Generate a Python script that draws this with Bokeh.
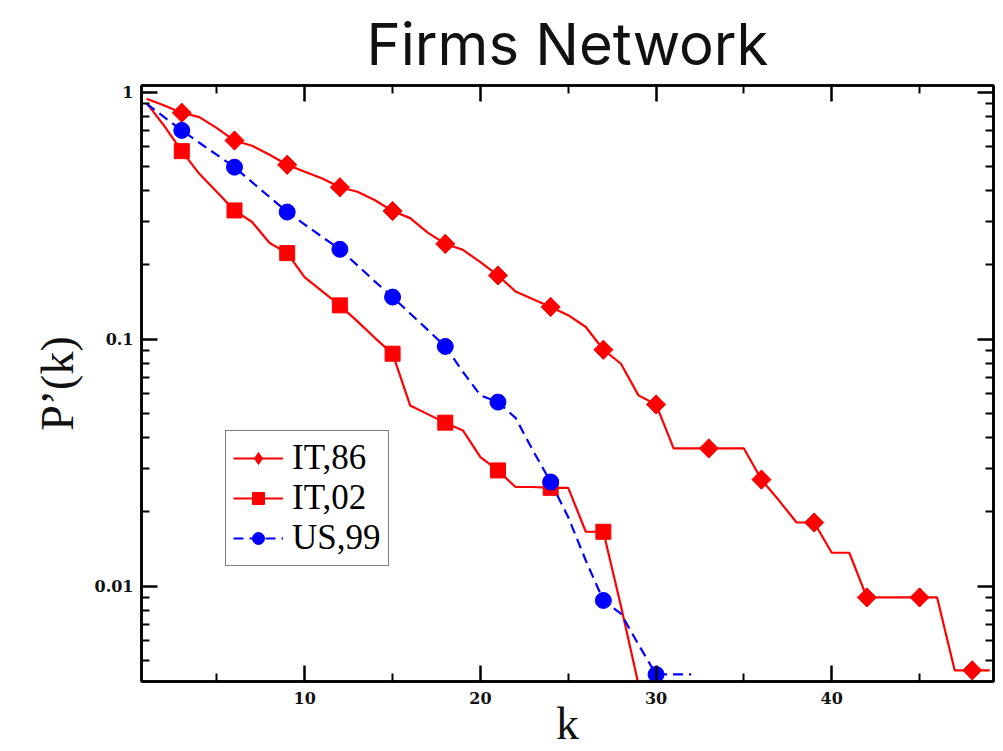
import math
from bokeh.plotting import figure
from bokeh.models import (Range1d, LogAxis, LinearAxis, FixedTicker, Legend,
                          LegendItem, ColumnDataSource, CustomJSTickFormatter)
from bokeh.embed import file_html
from bokeh.resources import INLINE

# ---------------- data ----------------
k_it86 = list(range(1, 50))
p_it86 = [0.94, 0.883, 0.825, 0.792, 0.715, 0.637, 0.607, 0.558, 0.508, 0.476,
          0.447, 0.412, 0.395, 0.365, 0.330, 0.309, 0.270, 0.243, 0.230, 0.205,
          0.181, 0.156, 0.145, 0.135, 0.125, 0.112, 0.0906, 0.0795, 0.0592, 0.0544,
          0.0361, 0.0361, 0.0361, 0.0361, 0.0361, 0.0270, 0.0222, 0.0181, 0.0181, 0.01365,
          0.01365, 0.0090, 0.0090, 0.0090, 0.0090, 0.0090, 0.00456, 0.00456, 0.00456]

k_it02 = list(range(1, 30))
p_it02 = [0.903, 0.73, 0.577, 0.467, 0.394, 0.332, 0.298, 0.245, 0.223, 0.178,
          0.156, 0.137, 0.118, 0.101, 0.0873, 0.0539, 0.0497, 0.0459, 0.0427, 0.0333,
          0.0294, 0.0252, 0.0252, 0.0250, 0.0250, 0.0166, 0.0166, 0.0083, 0.0040]

k_us99 = list(range(1, 33))
p_us99 = [0.897, 0.792, 0.700, 0.624, 0.557, 0.497, 0.432, 0.376, 0.327, 0.291,
          0.259, 0.231, 0.199, 0.171, 0.148, 0.127, 0.109, 0.0934, 0.0738, 0.0592,
          0.0556, 0.048, 0.0353, 0.0264, 0.019, 0.0127, 0.00875, 0.00773, 0.0058, 0.00439,
          0.00439, 0.00439]

title_text = "Firms Network"
series_names = ["IT,86", "IT,02", "US,99"]
x_major = [10, 20, 30, 40]
x_minor = [5, 15, 25, 35, 45]
y_major = [0.01, 0.1, 1]
y_minor = [m * 10.0 ** e for e in (-3, -2, -1) for m in range(2, 10)]

RED = "#ff0000"
BLUE = "#0000ff"
SERIF = "Liberation Serif"

p = figure(width=1003, height=751, y_axis_type="log",
           x_range=Range1d(0.706, 49.21), y_range=Range1d(0.00411, 1.064),
           output_backend="svg", toolbar_location=None,
           min_border_left=141, min_border_right=10,
           min_border_top=85, min_border_bottom=70,
           background_fill_color="white", border_fill_color="white")

p.title.text = title_text
p.title.text_font = "Inter"
p.title.text_font_size = "58px"
p.title.text_font_style = "normal"
p.title.align = "center"
p.title.text_color = "#111111"
p.title.standoff = 13

p.xgrid.visible = False
p.ygrid.visible = False
p.outline_line_color = "black"
p.outline_line_width = 2.5


def style_axis(ax, show_labels=True):
    ax.axis_line_width = 2.5
    ax.axis_line_color = "black"
    ax.major_tick_in = 16
    ax.major_tick_out = 0
    ax.minor_tick_in = 8
    ax.minor_tick_out = 0
    ax.major_tick_line_width = 2.5
    ax.minor_tick_line_width = 2
    ax.major_tick_line_color = "black"
    ax.minor_tick_line_color = "black"
    if show_labels:
        ax.major_label_text_font = "DejaVu Serif"
        ax.major_label_text_font_style = "bold"
        ax.major_label_text_font_size = "16px"
        ax.major_label_text_color = "#111111"
        ax.formatter = CustomJSTickFormatter(code="return tick.toString();")
    else:
        ax.major_label_text_font_size = "1px"
        ax.major_label_text_alpha = 0
        ax.major_label_standoff = 0
        ax.formatter = CustomJSTickFormatter(code="return ' ';")


xt = FixedTicker(ticks=x_major, minor_ticks=x_minor)
yt = FixedTicker(ticks=y_major, minor_ticks=y_minor)

xa = p.xaxis[0]
xa.ticker = xt
style_axis(xa)
xa.major_label_standoff = 10
xa.axis_label = "k"
xa.axis_label_text_font = SERIF
xa.axis_label_text_font_size = "46px"
xa.axis_label_text_font_style = "normal"
xa.axis_label_text_color = "#111111"
xa.axis_label_standoff = -9

ya = p.yaxis[0]
ya.ticker = yt
style_axis(ya)
ya.major_label_standoff = 8
ya.axis_label = "P\u2019(k)"
ya.axis_label_text_font = SERIF
ya.axis_label_text_font_size = "46px"
ya.axis_label_text_font_style = "normal"
ya.axis_label_text_color = "#111111"
ya.axis_label_standoff = 9

top = LinearAxis(ticker=FixedTicker(ticks=x_major, minor_ticks=x_minor))
style_axis(top, show_labels=False)
p.add_layout(top, "above")
right = LogAxis(ticker=FixedTicker(ticks=y_major, minor_ticks=y_minor))
style_axis(right, show_labels=False)
p.add_layout(right, "right")

# ---------------- series ----------------
s86 = ColumnDataSource(dict(k=k_it86, p=p_it86))
m86 = ColumnDataSource(dict(k=k_it86[2::3], p=p_it86[2::3]))
s02 = ColumnDataSource(dict(k=k_it02, p=p_it02))
m02 = ColumnDataSource(dict(k=k_it02[2::3], p=p_it02[2::3]))
s99 = ColumnDataSource(dict(k=k_us99, p=p_us99))
m99 = ColumnDataSource(dict(k=k_us99[2::3], p=p_us99[2::3]))

l86 = p.line("k", "p", source=s86, line_color=RED, line_width=2.2)
# diamond glyph (used as the legend key) lies fully under the rotated squares
g86_key = p.scatter("k", "p", source=m86, marker="diamond", size=19,
                    fill_color=RED, line_color=RED)
g86 = p.scatter("k", "p", source=m86, marker="square", angle=math.pi / 4,
                size=13.5, fill_color=RED, line_color=RED)
l02 = p.line("k", "p", source=s02, line_color=RED, line_width=2.2)
g02 = p.scatter("k", "p", source=m02, marker="square", size=15,
                fill_color=RED, line_color=RED)
l99 = p.line("k", "p", source=s99, line_color=BLUE, line_width=2.2,
             line_dash="10 6")
g99 = p.scatter("k", "p", source=m99, marker="circle", size=16,
                fill_color=BLUE, line_color=BLUE)

legend = Legend(items=[
    LegendItem(label=series_names[0], renderers=[l86, g86_key]),
    LegendItem(label=series_names[1], renderers=[l02, g02]),
    LegendItem(label=series_names[2], renderers=[l99, g99]),
], location=(84, 115))
legend.label_text_font = SERIF
legend.label_text_font_size = "35px"
legend.label_text_color = "black"
legend.glyph_width = 50
legend.glyph_height = 30
legend.label_height = 30
legend.spacing = 0
legend.padding = 7
legend.margin = 0
legend.label_standoff = 9
legend.border_line_color = "black"
legend.border_line_width = 1.5
legend.background_fill_color = "white"
legend.background_fill_alpha = 1
p.add_layout(legend)

open("out.html", "w").write(file_html(p, INLINE))
